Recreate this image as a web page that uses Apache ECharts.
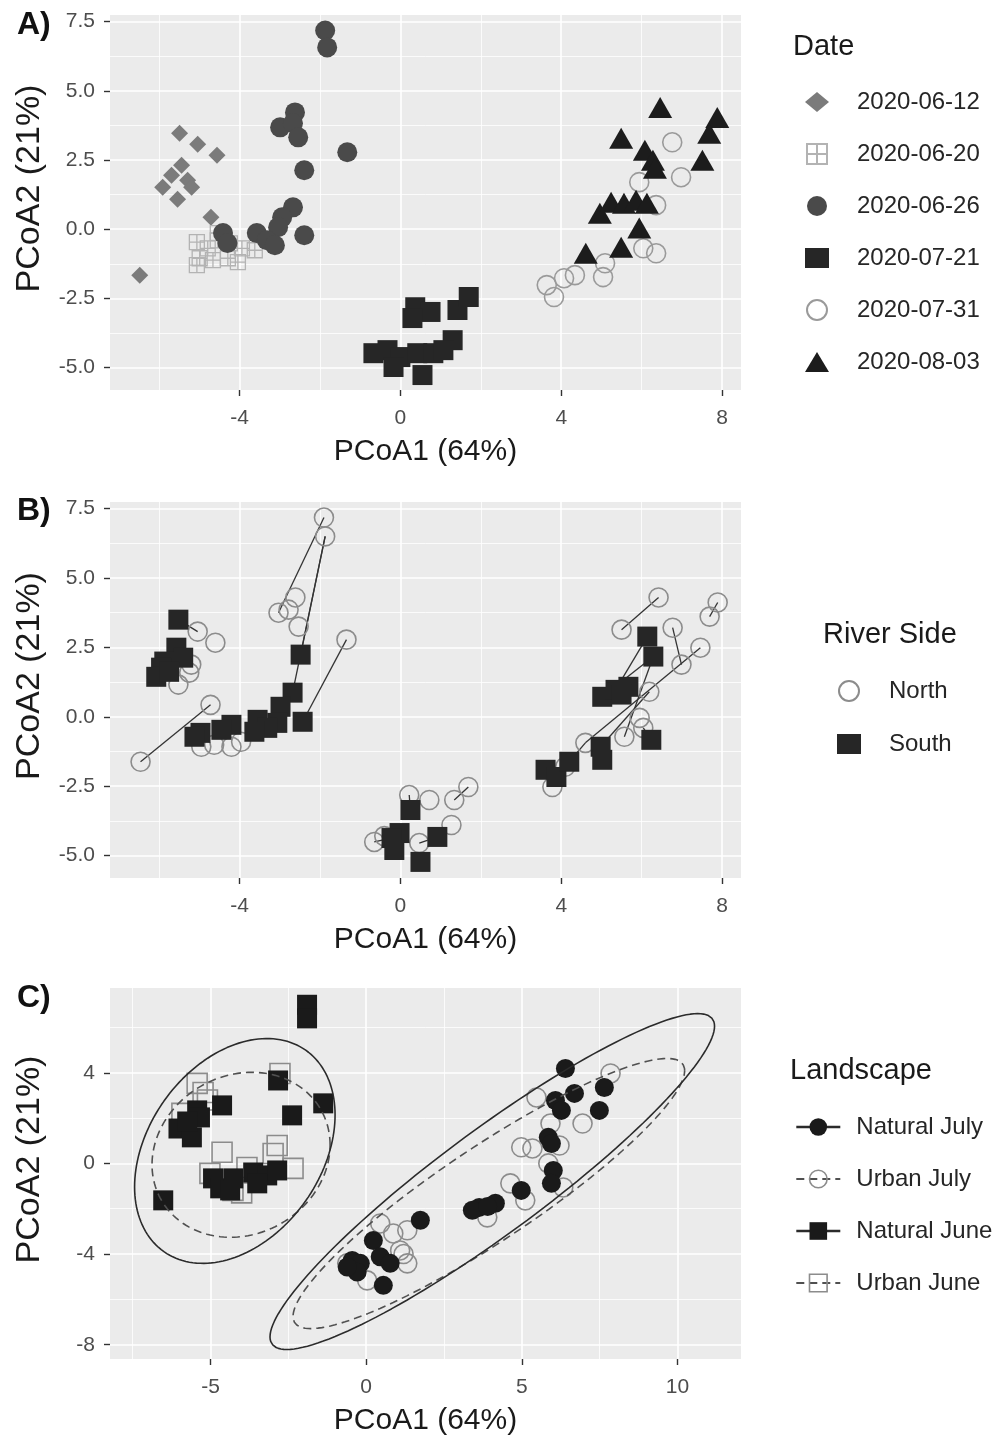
<!DOCTYPE html>
<html>
<head>
<meta charset="utf-8">
<title>PCoA panels</title>
<script src="https://cdn.jsdelivr.net/npm/echarts@6/dist/echarts.min.js"></script>
<style>
  html, body { margin: 0; padding: 0; background: #fff; }
  #main { width: 993px; height: 1443px; }
</style>
</head>
<body>
<div id="main"></div>
<script>
// ---- panel A: samples by sampling date (PCoA1, PCoA2) ----
var dates = ['2020-06-12', '2020-06-20', '2020-06-26', '2020-07-21', '2020-07-31', '2020-08-03'];
var jun12 = [[-5.49, 3.47], [-5.04, 3.07], [-4.56, 2.67], [-5.44, 2.31], [-5.69, 1.95], [-5.29, 1.77],
  [-5.91, 1.52], [-5.19, 1.52], [-5.54, 1.08], [-4.71, 0.43], [-6.48, -1.66]];
var jun20 = [[-5.06, -0.47], [-4.79, -0.69], [-4.54, -0.40], [-4.24, -0.51], [-3.94, -0.69], [-4.99, -1.05],
  [-4.66, -1.12], [-4.29, -1.05], [-4.04, -1.19], [-3.62, -0.76], [-4.54, -0.14], [-5.06, -1.30]];
var jun26 = [[-1.87, 7.18], [-1.82, 6.57], [-2.62, 4.22], [-2.99, 3.68], [-2.67, 3.83], [-2.54, 3.32],
  [-1.32, 2.78], [-2.39, 2.13], [-2.67, 0.79], [-2.94, 0.43], [-3.04, 0.07], [-2.39, -0.22],
  [-3.57, -0.14], [-3.32, -0.40], [-3.12, -0.58], [-4.41, -0.14], [-4.30, -0.50]];
var jul21 = [[0.37, -2.82], [0.75, -2.99], [1.42, -2.92], [1.70, -2.45], [0.30, -3.21], [1.30, -4.01],
  [-0.67, -4.48], [-0.32, -4.37], [0.00, -4.62], [0.42, -4.48], [0.82, -4.48], [1.07, -4.37],
  [-0.17, -4.98], [0.55, -5.27]];
var jul31 = [[6.76, 3.14], [6.98, 1.88], [5.94, 1.70], [6.36, 0.87], [6.04, -0.69], [6.36, -0.87],
  [5.09, -1.23], [5.04, -1.73], [4.34, -1.66], [4.07, -1.77], [3.64, -2.02], [3.82, -2.45]];
var aug03 = [[6.46, 4.40], [7.88, 4.04], [7.68, 3.47], [5.49, 3.29], [6.08, 2.85], [6.28, 2.49],
  [7.51, 2.49], [6.33, 2.20], [4.96, 0.58], [5.24, 0.97], [5.56, 0.94], [5.86, 1.05], [6.13, 0.94],
  [5.94, 0.04], [4.61, -0.87], [5.49, -0.65]];

// ---- panel B: river side ----
var north = [[-1.90, 7.18], [-1.87, 6.50], [-2.61, 4.30], [-2.78, 3.86], [-3.03, 3.75], [-2.53, 3.25],
  [-1.34, 2.78], [-5.04, 3.07], [-4.60, 2.67], [-5.20, 1.88], [-5.25, 1.59], [-5.52, 1.16],
  [-4.72, 0.43], [-6.46, -1.62], [-4.95, -1.08], [-4.63, -1.01], [-4.20, -1.08], [-3.96, -0.90],
  [0.22, -2.82], [0.72, -3.00], [1.34, -3.00], [1.69, -2.53], [1.27, -3.90], [-0.65, -4.51],
  [-0.40, -4.30], [0.47, -4.55], [6.42, 4.30], [7.89, 4.12], [7.69, 3.61], [5.50, 3.14],
  [6.77, 3.21], [7.46, 2.49], [6.99, 1.88], [6.19, 0.90], [5.95, -0.04], [6.04, -0.40],
  [5.57, -0.72], [4.60, -0.94], [3.78, -2.53], [4.10, -1.80]];
var south = [[-5.52, 3.50], [-5.57, 2.49], [-5.40, 2.13], [-5.87, 1.99], [-5.95, 1.77], [-6.07, 1.44],
  [-5.75, 1.62], [-2.48, 2.24], [-2.68, 0.87], [-2.98, 0.36], [-2.43, -0.18], [-3.06, -0.22],
  [-3.55, -0.11], [-3.31, -0.40], [-3.63, -0.54], [-4.20, -0.29], [-4.45, -0.47], [-4.97, -0.58],
  [-5.12, -0.72], [0.25, -3.36], [-0.02, -4.19], [-0.22, -4.37], [-0.15, -4.80], [0.92, -4.33],
  [0.50, -5.23], [6.14, 2.89], [6.29, 2.17], [5.02, 0.72], [5.35, 0.97], [5.67, 1.08], [5.50, 0.80],
  [4.98, -1.08], [5.02, -1.55], [6.24, -0.83], [3.61, -1.91], [3.88, -2.17], [4.20, -1.62]];
// pairs joined by a segment: n = north index, s = south index
var sideLinks = [['n13', 'n12'], ['n6', 's10'], ['n0', 'n4'], ['n1', 's7'], ['n1', 's8'], ['s0', 'n7'],
  ['s1', 'n9'], ['s19', 'n18'], ['n21', 'n20'], ['s21', 'n23'], ['s23', 'n25'], ['n29', 'n26'],
  ['n30', 'n32'], ['n27', 'n28'], ['n31', 'n37'], ['s25', 's28'], ['s26', 's27'], ['s26', 'n36'],
  ['n33', 's31'], ['s33', 'n35'], ['s36', 'n37']];

// ---- panel C: landscape x month ----
var landscapes = ['Natural July', 'Urban July', 'Natural June', 'Urban June'];
var natJuly = [[1.74, -2.51], [0.23, -3.40], [-0.45, -4.28], [-0.19, -4.41], [0.45, -4.12], [0.77, -4.41],
  [-0.29, -4.79], [0.55, -5.38], [-0.61, -4.57], [6.40, 4.19], [6.69, 3.09], [6.08, 2.78], [7.65, 3.35],
  [7.49, 2.34], [6.27, 2.34], [5.85, 1.15], [5.95, 0.88], [6.01, -0.31], [5.95, -0.88], [4.98, -1.19],
  [3.63, -1.94], [4.15, -1.76], [3.41, -2.07], [3.90, -1.90]];
var urbJuly = [[0.87, -3.09], [1.32, -2.95], [0.45, -2.65], [1.09, -3.84], [1.32, -4.41], [-0.61, -4.41],
  [0.03, -5.16], [1.20, -4.00], [7.85, 3.97], [5.47, 2.91], [6.95, 1.76], [5.92, 1.76], [4.98, 0.71],
  [5.34, 0.66], [6.21, 0.79], [5.85, 0.00], [6.33, -1.06], [4.63, -0.88], [5.11, -1.63], [3.89, -2.38]];
var natJune = [[-1.90, 7.00], [-1.90, 6.40], [-2.83, 3.66], [-1.38, 2.65], [-4.63, 2.56], [-2.38, 2.12],
  [-5.43, 2.34], [-5.34, 2.03], [-6.03, 1.54], [-5.60, 1.15], [-5.75, 1.85], [-6.52, -1.63],
  [-4.92, -0.66], [-4.69, -1.10], [-4.27, -0.66], [-4.37, -1.19], [-3.63, -0.40], [-3.18, -0.53],
  [-2.86, -0.31], [-3.50, -0.88]];
var urbJune = [[-2.77, 3.97], [-5.43, 3.53], [-5.24, 3.13], [-5.92, 2.21], [-4.63, 0.49], [-2.86, 0.79],
  [-2.99, 0.44], [-2.35, -0.22], [-5.02, -0.44], [-4.28, -1.19], [-4.00, -1.30], [-3.83, -0.18],
  [-5.10, 2.80]];
// ellipses: centre x, centre y, half-width, half-height, tilt (correlation)
var ellNatJuly = [4.05, -0.80, 7.14, 7.41, 0.925];
var ellUrbJuly = [3.94, -1.33, 6.29, 5.96, 0.91];
var ellNatJune = [-4.22, 0.55, 3.22, 4.96, 0.32];
var ellUrbJune = [-4.02, 0.38, 2.86, 3.64, 0.12];

// ---- axes ----
var xRangeAB = [-7.22, 8.47], yRangeAB = [-5.81, 7.74];
var xRangeC = [-8.23, 12.04], yRangeC = [-8.63, 7.74];
var xTicksAB = [-4, 0, 4, 8], xMinorAB = [-6, -2, 2, 6];
var yTicksAB = [-5, -2.5, 0, 2.5, 5, 7.5], yMinorAB = [-3.75, -1.25, 1.25, 3.75, 6.25];
var xTicksC = [-5, 0, 5, 10], xMinorC = [-7.5, -2.5, 2.5, 7.5];
var yTicksC = [-8, -4, 0, 4], yMinorC = [-6, -2, 2, 6];

var font = '"Liberation Sans", Arial, sans-serif';
var myChart = echarts.init(document.getElementById('main'));

function ellipsePath(e) {
    var pts = [], k = Math.sqrt(1 - e[4] * e[4]);
    for (var i = 0; i <= 160; i++) {
        var t = i / 160 * 2 * Math.PI;
        pts.push([e[0] + e[2] * Math.cos(t), e[1] + e[3] * (e[4] * Math.cos(t) + k * Math.sin(t))]);
    }
    return pts;
}

function xAxis(i, range, ticks) {
    return {
        gridIndex: i, type: 'value', min: range[0], max: range[1],
        axisLine: {show: false, onZero: false},
        axisTick: {show: true, customValues: ticks, length: 6, lineStyle: {color: '#333', width: 1.4}},
        axisLabel: {customValues: ticks, color: '#4d4d4d', fontSize: 21, fontFamily: font, margin: 18},
        splitLine: {show: false},
        name: 'PCoA1 (64%)', nameLocation: 'middle', nameGap: 47,
        nameTextStyle: {fontSize: 30, color: '#1a1a1a', fontFamily: font}
    };
}

function yAxis(i, range, ticks, decimals) {
    return {
        gridIndex: i, type: 'value', min: range[0], max: range[1],
        axisLine: {show: false, onZero: false},
        axisTick: {show: true, customValues: ticks, length: 6, lineStyle: {color: '#333', width: 1.4}},
        axisLabel: {
            customValues: ticks, color: '#4d4d4d', fontSize: 21, fontFamily: font, margin: 15,
            formatter: function (v) { return v.toFixed(decimals); }
        },
        splitLine: {show: false},
        name: 'PCoA2 (21%)', nameLocation: 'middle', nameGap: 63, nameRotate: 90,
        nameTextStyle: {fontSize: 34, color: '#1a1a1a', fontFamily: font, padding: [0, 0, 0, 28]}
    };
}

// white ggplot-like grid lines, drawn through the axes as mark lines
function gridLines(i, xMajor, xMinor, yMajor, yMinor) {
    var d = [];
    xMinor.forEach(function (v) { d.push({xAxis: v, lineStyle: {width: 0.8}}); });
    yMinor.forEach(function (v) { d.push({yAxis: v, lineStyle: {width: 0.8}}); });
    xMajor.forEach(function (v) { d.push({xAxis: v, lineStyle: {width: 1.6}}); });
    yMajor.forEach(function (v) { d.push({yAxis: v, lineStyle: {width: 1.6}}); });
    return {
        type: 'scatter', xAxisIndex: i, yAxisIndex: i, data: [], silent: true,
        markLine: {
            silent: true, symbol: ['none', 'none'], label: {show: false}, z: 1, animation: false,
            lineStyle: {color: '#ffffff', type: 'solid', opacity: 1},
            emphasis: {disabled: true}, data: d
        }
    };
}

function pts(name, i, data, symbol, size, style) {
    return {
        name: name, type: 'scatter', xAxisIndex: i, yAxisIndex: i, data: data,
        symbol: symbol, symbolSize: size, itemStyle: Object.assign({opacity: 1}, style),
        silent: true, z: 3
    };
}

var hollow = 'rgba(0,0,0,0)';
var crossSquare = 'path://M0,0H20V20H0Z M10,0V20 M0,10H20';

function pick(ref) {
    var idx = parseInt(ref.slice(1), 10);
    return ref[0] === 'n' ? north[idx] : south[idx];
}

var series = [
    gridLines(0, xTicksAB, xMinorAB, yTicksAB, yMinorAB),
    gridLines(1, xTicksAB, xMinorAB, yTicksAB, yMinorAB),
    gridLines(2, xTicksC, xMinorC, yTicksC, yMinorC),

    pts(dates[0], 0, jun12, 'diamond', 17, {color: '#7b7b7b'}),
    pts(dates[1], 0, jun20, crossSquare, 15, {color: hollow, borderColor: '#b3b3b3', borderWidth: 1.3}),
    pts(dates[2], 0, jun26, 'circle', 20, {color: '#4a4a4a'}),
    pts(dates[3], 0, jul21, 'rect', 20, {color: '#262626'}),
    pts(dates[4], 0, jul31, 'circle', 19, {color: hollow, borderColor: '#9a9a9a', borderWidth: 1.6}),
    pts(dates[5], 0, aug03, 'triangle', [24, 21], {color: '#1c1c1c'}),

    {
        type: 'lines', coordinateSystem: 'cartesian2d', xAxisIndex: 1, yAxisIndex: 1, silent: true, z: 2,
        lineStyle: {color: '#333', width: 1.3, opacity: 1},
        data: sideLinks.map(function (l) { return {coords: [pick(l[0]), pick(l[1])]}; })
    },
    pts('North', 1, north, 'circle', 19, {color: hollow, borderColor: '#8c8c8c', borderWidth: 1.6}),
    pts('South', 1, south, 'rect', 20, {color: '#262626'})
];

// panel C: ellipse line first (gives the line+symbol legend key), then points
var cGroups = [
    {name: landscapes[1], data: urbJuly, ell: ellUrbJuly, symbol: 'circle', natural: false},
    {name: landscapes[3], data: urbJune, ell: ellUrbJune, symbol: 'rect', natural: false},
    {name: landscapes[0], data: natJuly, ell: ellNatJuly, symbol: 'circle', natural: true},
    {name: landscapes[2], data: natJune, ell: ellNatJune, symbol: 'rect', natural: true}
];
cGroups.forEach(function (g) {
    var style = g.natural ? {color: '#1a1a1a'} : {color: hollow, borderColor: '#8c8c8c', borderWidth: 1.6};
    series.push({
        name: g.name, type: 'line', xAxisIndex: 2, yAxisIndex: 2, data: ellipsePath(g.ell),
        showSymbol: false, symbol: g.symbol, silent: true, z: 4, smooth: false,
        itemStyle: style,
        lineStyle: g.natural ? {color: '#2b2b2b', width: 1.6, type: 'solid'}
                             : {color: '#505050', width: 1.6, type: [8, 5]}
    });
});
cGroups.forEach(function (g) {
    var style = g.natural ? {color: '#1a1a1a'} : {color: hollow, borderColor: '#8c8c8c', borderWidth: 1.6};
    series.push(pts(g.name, 2, g.data, g.symbol, g.symbol === 'rect' ? 20 : 19, style));
});

var legendText = {fontSize: 24, color: '#262626', fontFamily: font, lineHeight: 22};

option = {
    animation: false,
    backgroundColor: '#ffffff',
    grid: [
        {left: 110, top: 15, width: 631, height: 375, backgroundColor: '#ebebeb', show: true, borderWidth: 0},
        {left: 110, top: 502, width: 631, height: 376, backgroundColor: '#ebebeb', show: true, borderWidth: 0},
        {left: 110, top: 988, width: 631, height: 371, backgroundColor: '#ebebeb', show: true, borderWidth: 0}
    ],
    xAxis: [xAxis(0, xRangeAB, xTicksAB), xAxis(1, xRangeAB, xTicksAB), xAxis(2, xRangeC, xTicksC)],
    yAxis: [yAxis(0, yRangeAB, yTicksAB, 1), yAxis(1, yRangeAB, yTicksAB, 1), yAxis(2, yRangeC, yTicksC, 0)],
    legend: [
        {
            data: dates, orient: 'vertical', left: 805, top: 90, padding: 0,
            itemWidth: 24, itemHeight: 20, itemGap: 28, selectedMode: false,
            textStyle: Object.assign({padding: [0, 0, 0, 23]}, legendText)
        },
        {
            data: ['North', 'South'], orient: 'vertical', left: 837, top: 679, padding: 0,
            itemWidth: 24, itemHeight: 20, itemGap: 29, selectedMode: false,
            textStyle: Object.assign({padding: [0, 0, 0, 23]}, legendText)
        },
        {
            data: [
                {name: landscapes[0], itemStyle: {color: '#1a1a1a', borderWidth: 0}, lineStyle: {width: 2.6}},
                {name: landscapes[1], itemStyle: {color: hollow, borderColor: '#8c8c8c', borderWidth: 1.6}, lineStyle: {width: 2}},
                {name: landscapes[2], itemStyle: {color: '#1a1a1a', borderWidth: 0}, lineStyle: {width: 2.6}},
                {name: landscapes[3], itemStyle: {color: hollow, borderColor: '#8c8c8c', borderWidth: 1.6}, lineStyle: {width: 2}}
            ],
            orient: 'vertical', left: 795, top: 1115, padding: 0,
            itemWidth: 44, itemHeight: 22, itemGap: 28, selectedMode: false,
            textStyle: Object.assign({padding: [0, 0, 0, 11]}, legendText)
        }
    ],
    graphic: [
        {type: 'text', left: 17, top: 9, style: {text: 'A)', fontSize: 32, fontWeight: 'bold', fontFamily: font, fill: '#111'}},
        {type: 'text', left: 17, top: 495, style: {text: 'B)', fontSize: 32, fontWeight: 'bold', fontFamily: font, fill: '#111'}},
        {type: 'text', left: 17, top: 982, style: {text: 'C)', fontSize: 32, fontWeight: 'bold', fontFamily: font, fill: '#111'}},
        {type: 'text', left: 793, top: 32, style: {text: 'Date', fontSize: 29, fontFamily: font, fill: '#1a1a1a'}},
        {type: 'text', left: 823, top: 620, style: {text: 'River Side', fontSize: 29, fontFamily: font, fill: '#1a1a1a'}},
        {type: 'text', left: 790, top: 1056, style: {text: 'Landscape', fontSize: 29, fontFamily: font, fill: '#1a1a1a'}}
    ],
    series: series
};

myChart.setOption(option);
</script>
</body>
</html>
